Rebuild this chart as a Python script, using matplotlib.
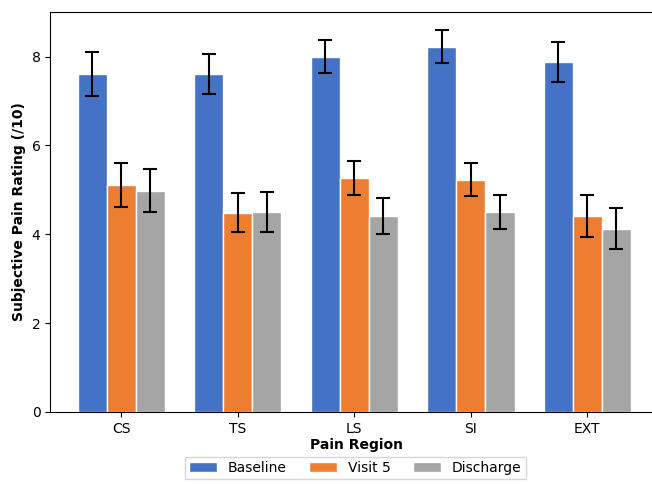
import numpy as np
import matplotlib
matplotlib.use('Agg')
import matplotlib.pyplot as plt

regions = ['CS', 'TS', 'LS', 'SI', 'EXT']
baseline = [7.61, 7.61, 8.0, 8.22, 7.88]
baseline_err = [0.5, 0.45, 0.38, 0.37, 0.45]
visit5 = [5.11, 4.48, 5.27, 5.23, 4.41]
visit5_err = [0.5, 0.44, 0.38, 0.37, 0.47]
discharge = [4.98, 4.5, 4.41, 4.5, 4.12]
discharge_err = [0.49, 0.44, 0.4, 0.39, 0.46]

fig = plt.figure(figsize=(6.52, 4.84), dpi=100)
ax = fig.add_axes([0.077, 0.149, 0.94, 0.826])

x = np.arange(len(regions))
width = 0.25
err_kw = dict(ecolor='black', capsize=5, elinewidth=1.5, capthick=1.5)
ax.bar(x - width, baseline, width, yerr=baseline_err, color='#4472C4',
       edgecolor='white', linewidth=1, label='Baseline', error_kw=err_kw)
ax.bar(x, visit5, width, yerr=visit5_err, color='#ED7D31',
       edgecolor='white', linewidth=1, label='Visit 5', error_kw=err_kw)
ax.bar(x + width, discharge, width, yerr=discharge_err, color='#A5A5A5',
       edgecolor='white', linewidth=1, label='Discharge', error_kw=err_kw)

ax.set_xticks(x)
ax.set_xticklabels(regions)
ax.set_xlim(-0.61, 4.65)
ax.set_ylim(0, 9)
ax.set_yticks([0, 2, 4, 6, 8])
ax.spines['right'].set_visible(False)
ax.set_xlabel('Pain Region', fontweight='bold', labelpad=2)
ax.set_ylabel('Subjective Pain Rating (/10)', fontweight='bold')
leg_x = (355 - 50) / (0.94 * 652)
ax.legend(loc='upper center', bbox_to_anchor=(leg_x, -0.095), ncol=3,
          frameon=True, fancybox=False, columnspacing=1.6,
          borderpad=0.3)

plt.savefig('out.png', dpi=100)
